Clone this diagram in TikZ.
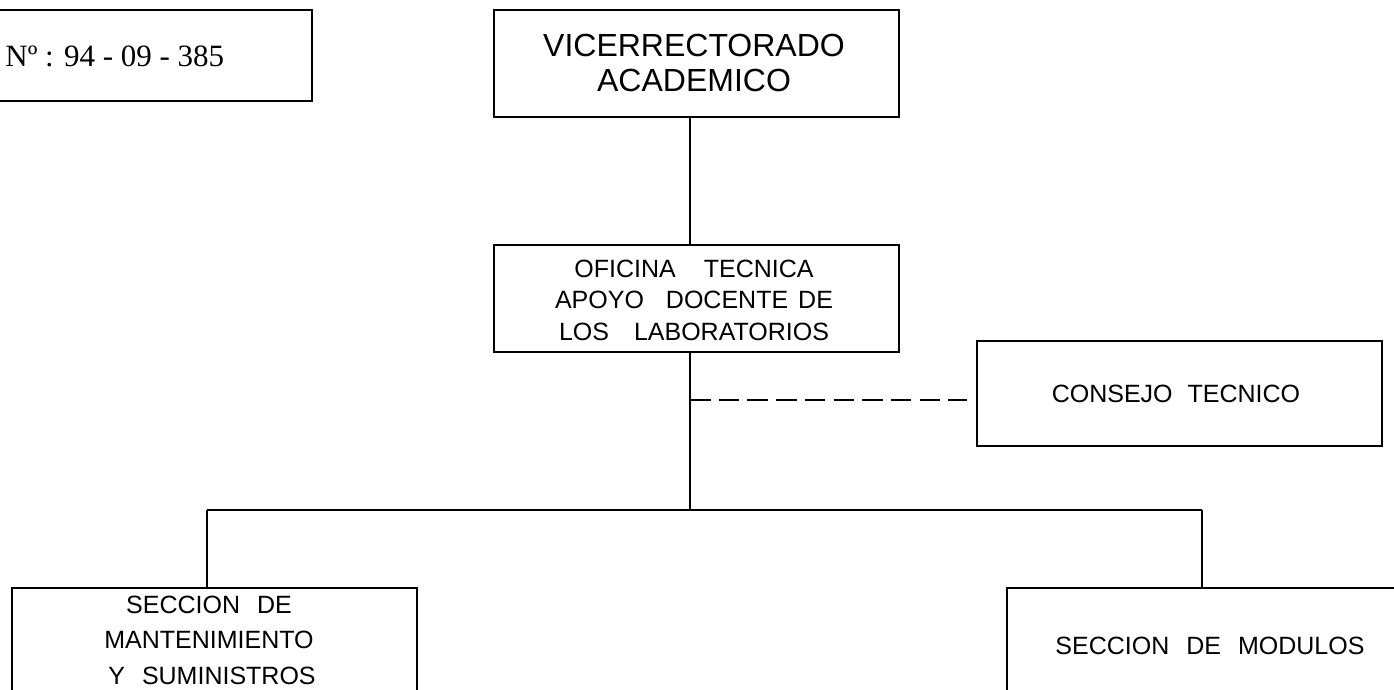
\documentclass[tikz,border=0pt]{standalone}
\usepackage{fontspec}
\setmainfont{Liberation Serif}
\newfontfamily\arialfont{Liberation Sans}
\begin{document}
\begin{tikzpicture}[x=0.5pt,y=-0.5pt,
  orgbox/.style={draw=black, line width=1.3pt, inner sep=0pt, fill=none},
  lbl/.style={font=\arialfont\fontsize{12.5}{15.8}\selectfont, align=center, inner sep=0pt},
  biglbl/.style={font=\arialfont\fontsize{16}{17.5}\selectfont, align=center, inner sep=0pt},
  conn/.style={line width=1.1pt}]
\useasboundingbox (0,0) rectangle (1394,690);
\fill[white] (0,0) rectangle (1394,690);
% boxes
\node[orgbox, minimum width=166pt, minimum height=45.5pt] (num) at (146,55.5) {};
\node[anchor=base west, font=\fontsize{15.5}{18}\selectfont, inner sep=0pt] (numtxt) at (5,67) {Nº : 94 - 09 - 385};
\node[orgbox, minimum width=202.5pt, minimum height=53.5pt] (vice) at (696.5,63.5) {};
\node[biglbl] (vicetxt) at (694,63) {VICERRECTORADO\\ACADEMICO};
\node[orgbox, minimum width=202.5pt, minimum height=53.5pt] (ofi) at (696.5,298.5) {};
\node[lbl] (ofitxt) at (694,300) {OFICINA\hspace{14pt}TECNICA\\APOYO\hspace{11pt}DOCENTE\hspace{5pt}DE\\LOS\hspace{12.5pt}LABORATORIOS};
\node[orgbox, minimum width=202.5pt, minimum height=52.5pt] (cons) at (1179.5,393.5) {};
\node[lbl] (constxt) at (1176,393.5) {CONSEJO\hspace{7.5pt}TECNICO};
\node[orgbox, minimum width=202.5pt, minimum height=71pt] (mant) at (214.5,659) {};
\node[lbl, font=\arialfont\fontsize{12.5}{17.8}\selectfont] (manttxt) at (209,640) {SECCION\hspace{8.5pt}DE\\MANTENIMIENTO\\\hspace*{3pt}Y\hspace{8.5pt}SUMINISTROS};
\node[orgbox, minimum width=206.5pt, minimum height=71pt] (mod) at (1213.5,659) {};
\node[lbl] (modtxt) at (1210,646) {SECCION\hspace{8.5pt}DE\hspace{8.5pt}MODULOS};
% junctions
\coordinate (j) at (690,510);
\coordinate (jl) at (207,510);
\coordinate (jr) at (1202,510);
\coordinate (d) at (690,400);
% connectors
\draw[conn] (vice.south -| j) -- (ofi.north -| j);
\draw[conn] (ofi.south -| j) -- (j);
\draw[conn] (jl) -- (jr);
\draw[conn] (jl) -- (mant.north -| jl);
\draw[conn] (jr) -- (mod.north -| jr);
\draw[conn, line width=1.3pt, dash pattern=on 10.25pt off 4.1pt, shorten >=4.5pt] (d) -- (cons.west |- d);
\end{tikzpicture}
\end{document}
